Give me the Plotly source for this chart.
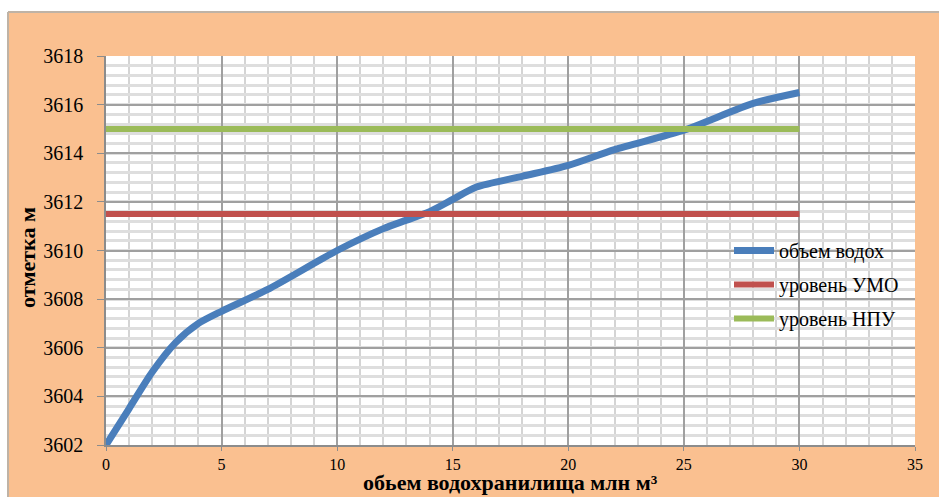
import plotly.graph_objects as go

# Reservoir volume vs. water level
volume = [0, 1, 2, 3, 4, 5, 7, 10, 12, 13, 14, 15, 16, 18, 20, 22, 25, 28, 30]
level = [3602, 3603.5, 3605, 3606.2, 3607, 3607.5, 3608.4, 3610, 3610.9, 3611.25,
         3611.6, 3612.1, 3612.6, 3613.05, 3613.5, 3614.15, 3614.95, 3616.05, 3616.5]

# Reference levels (dead storage and normal pool)
umo_x = [0, 30]
umo_y = [3611.5, 3611.5]
npu_x = [0, 30]
npu_y = [3615, 3615]

series_names = ["объем водох", "уровень УМО", "уровень НПУ"]
x_title = "<b>обьем водохранилища млн м³</b>"
y_title = "<b>отметка м</b>"
x_ticks = [0, 5, 10, 15, 20, 25, 30, 35]
y_ticks = [3602, 3604, 3606, 3608, 3610, 3612, 3614, 3616, 3618]

W, H = 939, 497
ML, MR, MT, MB = 106, 24, 56, 52
PW, PH = W - ML - MR, H - MT - MB

def px_x(p):
    return (p - ML) / PW

def px_y(p):
    return (H - MB - p) / PH

ORANGE = "#FAC090"
SERIF = "'Liberation Serif', 'Times New Roman', serif"

fig = go.Figure()
fig.add_trace(go.Scatter(x=volume, y=level, mode="lines", name=series_names[0],
                         line=dict(color="#4A7EBB", width=7, shape="spline", smoothing=0.7),
                         legendgroup="a"))
fig.add_trace(go.Scatter(x=umo_x, y=umo_y, mode="lines", name=series_names[1],
                         line=dict(color="#C0504D", width=6), legendgroup="b"))
fig.add_trace(go.Scatter(x=npu_x, y=npu_y, mode="lines", name=series_names[2],
                         line=dict(color="#9BBB59", width=6), legendgroup="c"))

shapes = [
    # white strip above and left of the chart frame
    dict(type="rect", xref="paper", yref="paper", x0=px_x(-5), x1=px_x(W + 5),
         y0=px_y(12), y1=px_y(-5), fillcolor="white", line=dict(width=0), layer="below"),
    dict(type="rect", xref="paper", yref="paper", x0=px_x(-5), x1=px_x(8),
         y0=px_y(H + 5), y1=px_y(-5), fillcolor="white", line=dict(width=0), layer="below"),
    dict(type="line", xref="paper", yref="paper", x0=px_x(8), x1=px_x(W + 5),
         y0=px_y(12), y1=px_y(12), line=dict(color="#BFB3A6", width=2), layer="below"),
    dict(type="line", xref="paper", yref="paper", x0=px_x(8), x1=px_x(8),
         y0=px_y(12), y1=px_y(H + 5), line=dict(color="#BFB3A6", width=2), layer="below"),
]

annotations = [
    dict(text=y_title, xref="paper", yref="paper", x=px_x(27), y=px_y(258),
         xanchor="center", yanchor="middle", textangle=-90, showarrow=False,
         font=dict(family=SERIF, size=22, color="black")),
    dict(text=x_title, xref="paper", yref="paper", x=px_x(510), y=px_y(H),
         xanchor="center", yanchor="bottom", showarrow=False,
         font=dict(family=SERIF, size=22, color="black")),
]

fig.update_layout(
    width=W, height=H,
    margin=dict(l=ML, r=MR, t=MT, b=MB, pad=0),
    paper_bgcolor=ORANGE,
    plot_bgcolor="white",
    shapes=shapes,
    annotations=annotations,
    showlegend=True,
    legend=dict(x=px_x(729), y=px_y(231), xanchor="left", yanchor="top",
                bgcolor="rgba(0,0,0,0)", font=dict(family=SERIF, size=20, color="black"),
                traceorder="grouped", tracegroupgap=5, itemwidth=40),
    font=dict(family=SERIF, color="black"),
)

fig.update_xaxes(
    range=[0, 35], tickvals=x_ticks, ticks="outside", ticklen=4, tickcolor="#8C8C8C",
    tickfont=dict(size=16, family=SERIF), showline=True, linecolor="#8C8C8C", linewidth=1.5,
    showgrid=True, gridcolor="#A0A0A0", gridwidth=1.5, zeroline=False,
    minor=dict(dtick=1, showgrid=True, gridcolor="#D4D4D4", gridwidth=2),
    automargin=False,
)
fig.update_yaxes(
    range=[3602, 3618], tickvals=y_ticks, ticks="outside", ticklen=7, tickcolor="#8C8C8C",
    tickfont=dict(size=20, family=SERIF), showline=True, linecolor="#8C8C8C", linewidth=1.5,
    showgrid=True, gridcolor="#A0A0A0", gridwidth=1.5, zeroline=False,
    minor=dict(dtick=0.4, showgrid=True, gridcolor="#DEDEDE", gridwidth=2.5),
    ticklabelstandoff=10,
    automargin=False,
)

fig.write_html("out.html")
